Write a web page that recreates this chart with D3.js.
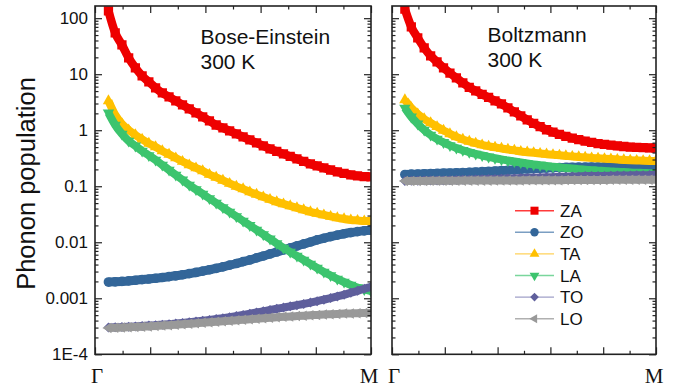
<!DOCTYPE html>
<html>
<head>
<meta charset="utf-8">
<script src="https://cdn.jsdelivr.net/npm/d3@7"></script>
<style>
  body { margin: 0; background: #fff; }
  svg { display: block; font-family: Arial, "Liberation Sans", sans-serif; }
</style>
</head>
<body>
<div id="container"></div>
<script>
/* CONSTANTS AND GLOBALS */
const width = 679, height = 390;

// k-point index along the path, Γ = 0 and M = 41
const kPoints = [2, 3, 4, 5, 6, 7, 8, 9, 10, 11, 12, 13, 14, 15, 16, 17, 18, 19, 20, 21,
  22, 23, 24, 25, 26, 27, 28, 29, 30, 31, 32, 33, 34, 35, 36, 37, 38, 39, 40, 41];
const kLabels = ["Γ", "M"];
const branches = ["ZA", "ZO", "TA", "LA", "TO", "LO"];
const yTickValues = [1e-4, 1e-3, 0.01, 0.1, 1, 10, 100];
const yTickLabels = ["1E-4", "0.001", "0.01", "0.1", "1", "10", "100"];

// Bose-Einstein, 300 K
const boseZA = [135, 54.6, 33.4, 19.5, 13.0, 9.33, 7.29, 5.69, 4.63, 3.93, 3.34, 2.83, 2.40, 2.04, 1.73, 1.47, 1.24, 1.10, 0.972, 0.859,
  0.759, 0.671, 0.593, 0.524, 0.463, 0.418, 0.377, 0.340, 0.307, 0.277, 0.250, 0.230, 0.212, 0.195, 0.180, 0.169, 0.159, 0.153, 0.148, 0.147];
const boseZO = [0.00195, 0.00197, 0.00200, 0.00204, 0.00210, 0.00216, 0.00221, 0.00228, 0.00235, 0.00243, 0.00252, 0.00263, 0.00275, 0.00289, 0.00305, 0.00323, 0.00343, 0.00365, 0.00390, 0.00418,
  0.00451, 0.00483, 0.00525, 0.00569, 0.00618, 0.00671, 0.00729, 0.00791, 0.00859, 0.00933, 0.0101, 0.0110, 0.0118, 0.0126, 0.0134, 0.0142, 0.0149, 0.0155, 0.0160, 0.0164];
const boseTA = [3.34, 1.88, 1.30, 1.01, 0.824, 0.685, 0.581, 0.503, 0.427, 0.370, 0.320, 0.277, 0.240, 0.212, 0.188, 0.162, 0.144, 0.127, 0.112, 0.0992,
  0.0895, 0.0791, 0.0714, 0.0644, 0.0581, 0.0525, 0.0483, 0.0445, 0.0410, 0.0378, 0.0348, 0.0327, 0.0307, 0.0289, 0.0272, 0.0261, 0.0250, 0.0245, 0.0240, 0.0240];
const boseLA = [2.04, 1.24, 0.859, 0.644, 0.525, 0.427, 0.355, 0.295, 0.240, 0.195, 0.159, 0.130, 0.105, 0.0877, 0.0729, 0.0605, 0.0503, 0.0418, 0.0348, 0.0289,
  0.0240, 0.0200, 0.0166, 0.0138, 0.0115, 0.00952, 0.00791, 0.00671, 0.00569, 0.00483, 0.00410, 0.00348, 0.00295, 0.00255, 0.00221, 0.00195, 0.00173, 0.00156, 0.00144, 0.00135];
const boseTO = [0.000301, 0.000303, 0.000307, 0.000311, 0.000315, 0.000320, 0.000326, 0.000331, 0.000338, 0.000345, 0.000353, 0.000362, 0.000373, 0.000384, 0.000397, 0.000410, 0.000425, 0.000441, 0.000460, 0.000481,
  0.000503, 0.000529, 0.000556, 0.000586, 0.000618, 0.000649, 0.000682, 0.000717, 0.000753, 0.000794, 0.000838, 0.000888, 0.000944, 0.00101, 0.00108, 0.00116, 0.00126, 0.00136, 0.00148, 0.00160];
const boseLO = [0.000295, 0.000297, 0.000300, 0.000303, 0.000307, 0.000311, 0.000315, 0.000320, 0.000326, 0.000331, 0.000336, 0.000343, 0.000351, 0.000358, 0.000365, 0.000373, 0.000380, 0.000388, 0.000397, 0.000405,
  0.000413, 0.000422, 0.000431, 0.000440, 0.000449, 0.000458, 0.000466, 0.000473, 0.000481, 0.000489, 0.000497, 0.000505, 0.000514, 0.000520, 0.000526, 0.000533, 0.000537, 0.000542, 0.000544, 0.000546];

// Boltzmann, 300 K
const boltzZA = [145, 69.9, 44.5, 29.5, 21.2, 16.6, 13.0, 10.5, 8.59, 6.99, 5.81, 5.03, 4.36, 3.85, 3.34, 2.95, 2.50, 2.12, 1.80, 1.53,
  1.32, 1.16, 1.02, 0.921, 0.841, 0.775, 0.723, 0.677, 0.639, 0.606, 0.579, 0.558, 0.540, 0.525, 0.512, 0.501, 0.493, 0.487, 0.483, 0.479];
const boltzZO = [0.162, 0.164, 0.165, 0.167, 0.168, 0.169, 0.171, 0.172, 0.174, 0.175, 0.177, 0.179, 0.182, 0.184, 0.187, 0.190, 0.193, 0.196, 0.200, 0.203,
  0.206, 0.209, 0.211, 0.213, 0.215, 0.217, 0.218, 0.219, 0.219, 0.220, 0.220, 0.221, 0.221, 0.221, 0.221, 0.221, 0.221, 0.221, 0.221, 0.221];
const boltzTA = [3.48, 2.50, 1.95, 1.59, 1.35, 1.15, 0.992, 0.859, 0.759, 0.685, 0.631, 0.586, 0.546, 0.518, 0.493, 0.473, 0.454, 0.436, 0.418, 0.406,
  0.395, 0.384, 0.374, 0.365, 0.356, 0.348, 0.340, 0.334, 0.327, 0.320, 0.315, 0.310, 0.305, 0.300, 0.295, 0.291, 0.288, 0.285, 0.283, 0.283];
const boltzLA = [2.50, 1.73, 1.30, 1.01, 0.824, 0.699, 0.606, 0.535, 0.483, 0.440, 0.405, 0.377, 0.355, 0.334, 0.316, 0.301, 0.288, 0.276, 0.265, 0.255,
  0.246, 0.238, 0.230, 0.224, 0.218, 0.212, 0.207, 0.202, 0.198, 0.194, 0.190, 0.187, 0.184, 0.181, 0.179, 0.176, 0.174, 0.173, 0.171, 0.171];
const boltzTO = [0.124, 0.125, 0.125, 0.126, 0.126, 0.127, 0.127, 0.128, 0.129, 0.130, 0.131, 0.132, 0.133, 0.134, 0.135, 0.136, 0.137, 0.138, 0.140, 0.141,
  0.142, 0.143, 0.144, 0.145, 0.147, 0.148, 0.149, 0.150, 0.152, 0.152, 0.153, 0.153, 0.154, 0.155, 0.155, 0.156, 0.157, 0.157, 0.158, 0.159];
const boltzLO = [0.124, 0.124, 0.124, 0.124, 0.125, 0.125, 0.125, 0.125, 0.125, 0.126, 0.126, 0.126, 0.126, 0.126, 0.127, 0.127, 0.127, 0.127, 0.127, 0.128,
  0.128, 0.128, 0.128, 0.128, 0.128, 0.129, 0.129, 0.129, 0.129, 0.129, 0.129, 0.129, 0.130, 0.130, 0.130, 0.130, 0.130, 0.130, 0.130, 0.130];

// marker style per branch (band = stroke under the dense markers)
const styles = {
  ZA: { color: "#ee0000", line: "#ff3b3b", symbol: d3.symbolSquare, size: 86, rotate: 0, band: 8.5 },
  ZO: { color: "#336699", line: "#7b9ec2", symbol: d3.symbolCircle, size: 74, rotate: 0, band: 9 },
  TA: { color: "#ffc000", line: "#ffd25a", symbol: d3.symbolTriangle, size: 56, rotate: 0, band: 8 },
  LA: { color: "#3cc46e", line: "#7ad69c", symbol: d3.symbolTriangle, size: 56, rotate: 180, band: 8 },
  TO: { color: "#5f5f9c", line: "#a0a0c8", symbol: d3.symbolSquare, size: 50, rotate: 45, band: 8 },
  LO: { color: "#999999", line: "#b0b0b0", symbol: d3.symbolTriangle, size: 48, rotate: -90, band: 8 }
};

const panels = [
  { id: "bose", x0: 95, x1: 371, title: ["Bose-Einstein", "300 K"], tx: 200.5, ty: 44, labels: true,
    series: [boseZA, boseZO, boseTA, boseLA, boseTO, boseLO] },
  { id: "boltz", x0: 392, x1: 656, title: ["Boltzmann", "300 K"], tx: 487.5, ty: 42, labels: false,
    series: [boltzZA, boltzZO, boltzTA, boltzLA, boltzTO, boltzLO] }
];

// APPEND SVG
const svg = d3.select("#container")
  .append("svg")
  .attr("width", width)
  .attr("height", height);

// SCALES
const y = d3.scaleLog()
  .domain([1e-4, 165])
  .range([354.3, 6]);

const isDecade = v => Math.abs(Math.log10(v) - Math.round(Math.log10(v))) < 1e-6;
const yMinor = y.ticks().filter(v => !isDecade(v));
const xMajor = [0, 8.2, 16.4, 24.6, 32.8, 41];
const xMinor = [4.1, 12.3, 20.5, 28.7, 36.9];

const tidy = g => {
  g.select(".domain").remove();
  g.selectAll("line").attr("stroke", "#222").attr("stroke-width", 1.2);
};

panels.forEach(p => {
  const x = d3.scaleLinear().domain([0, 41]).range([p.x0, p.x1]);
  const [yb, yt] = y.range();
  const g = svg.append("g").attr("class", p.id);

  g.append("clipPath").attr("id", "clip-" + p.id)
    .append("rect")
    .attr("x", p.x0).attr("y", yt)
    .attr("width", p.x1 - p.x0).attr("height", yb - yt);

  const band = d3.line()
    .x(d => x(d.k))
    .y(d => y(d.v))
    .curve(d3.curveMonotoneX);

  // MARKERS
  const plot = g.append("g").attr("clip-path", `url(#clip-${p.id})`);
  branches.forEach((b, bi) => {
    const st = styles[b];
    const pts = kPoints.map((k, i) => ({ k, v: p.series[bi][i] }));
    const bg = plot.append("g").attr("class", "branch " + b);
    bg.append("path")
      .datum(pts)
      .attr("d", band)
      .attr("fill", "none")
      .attr("stroke", st.color)
      .attr("stroke-width", st.band);
    bg.selectAll("path.mk")
      .data(pts)
      .join("path")
      .attr("class", "mk")
      .attr("d", d3.symbol(st.symbol, st.size))
      .attr("fill", st.color)
      .attr("transform", d => `translate(${x(d.k)},${y(d.v)}) rotate(${st.rotate})`);
  });

  // AXES (ticks pointing inwards)
  g.append("g").attr("transform", `translate(${p.x0},0)`)
    .call(d3.axisLeft(y).tickValues(yTickValues)
      .tickFormat((d, i) => p.labels ? yTickLabels[i] : "")
      .tickSize(-7).tickPadding(7))
    .call(tidy)
    .call(a => a.selectAll("text").attr("font-size", 17).attr("fill", "#111")
      .attr("font-family", "Arial, 'Liberation Sans', sans-serif"));
  g.append("g").attr("transform", `translate(${p.x0},0)`)
    .call(d3.axisLeft(y).tickValues(yMinor).tickFormat("").tickSize(-3.5))
    .call(tidy);
  g.append("g").attr("transform", `translate(${p.x1},0)`)
    .call(d3.axisRight(y).tickValues(yTickValues).tickFormat("").tickSize(-7))
    .call(tidy);
  g.append("g").attr("transform", `translate(${p.x1},0)`)
    .call(d3.axisRight(y).tickValues(yMinor).tickFormat("").tickSize(-3.5))
    .call(tidy);
  g.append("g").attr("transform", `translate(0,${yb})`)
    .call(d3.axisBottom(x).tickValues(xMajor).tickFormat("").tickSize(-7))
    .call(tidy);
  g.append("g").attr("transform", `translate(0,${yb})`)
    .call(d3.axisBottom(x).tickValues(xMinor).tickFormat("").tickSize(-3.5))
    .call(tidy);
  g.append("g").attr("transform", `translate(0,${yt})`)
    .call(d3.axisTop(x).tickValues(xMajor).tickFormat("").tickSize(-7))
    .call(tidy);
  g.append("g").attr("transform", `translate(0,${yt})`)
    .call(d3.axisTop(x).tickValues(xMinor).tickFormat("").tickSize(-3.5))
    .call(tidy);

  // FRAME
  g.append("rect")
    .attr("x", p.x0).attr("y", yt)
    .attr("width", p.x1 - p.x0).attr("height", yb - yt)
    .attr("fill", "none").attr("stroke", "#222").attr("stroke-width", 1.6);

  // Γ and M labels
  g.selectAll("text.klabel")
    .data([0, 41])
    .join("text")
    .attr("class", "klabel")
    .attr("x", (d, i) => x(d) + (i === 0 ? 2 : -2))
    .attr("y", 383)
    .attr("text-anchor", "middle")
    .attr("font-family", "'Liberation Serif', 'Times New Roman', serif")
    .attr("font-size", 21)
    .attr("fill", "#111")
    .text((d, i) => kLabels[i]);

  // PANEL TITLE
  g.append("text")
    .attr("x", p.tx).attr("y", p.ty)
    .attr("font-size", 21).attr("fill", "#111")
    .selectAll("tspan")
    .data(p.title)
    .join("tspan")
    .attr("x", p.tx)
    .attr("dy", (d, i) => i === 0 ? 0 : 25.3)
    .text(d => d);
});

// Y LABEL
svg.append("text")
  .attr("transform", "translate(35,183.5) rotate(-90)")
  .attr("text-anchor", "middle")
  .attr("font-size", 25.5)
  .attr("fill", "#111")
  .text("Phonon population");

// LEGEND
const legend = svg.append("g").attr("class", "legend")
  .selectAll("g")
  .data(branches)
  .join("g")
  .attr("transform", (d, i) => `translate(534.5,${210.7 + i * 21.6})`);

legend.append("line")
  .attr("x1", -19.5).attr("x2", 19.5)
  .attr("stroke", d => styles[d].line)
  .attr("stroke-width", 1.4);

legend.append("path")
  .attr("d", d => d3.symbol(styles[d].symbol, styles[d].size * 0.75)())
  .attr("transform", d => `rotate(${styles[d].rotate})`)
  .attr("fill", d => styles[d].color);

legend.append("text")
  .attr("x", 25.5)
  .attr("dy", "0.36em")
  .attr("font-size", 17)
  .attr("fill", "#111")
  .text(d => d);
</script>
</body>
</html>
